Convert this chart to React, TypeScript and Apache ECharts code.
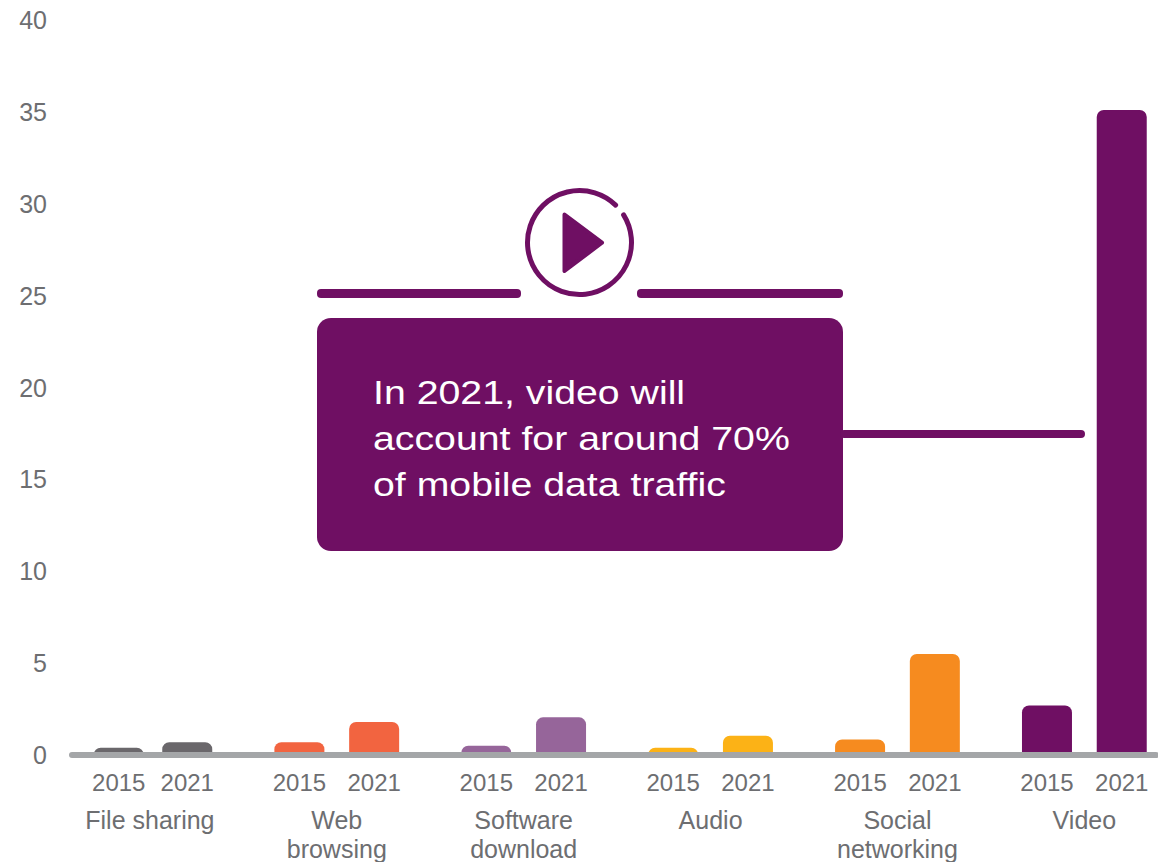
import React, { useEffect, useRef } from "react";
import * as echarts from "echarts";

const groupLabels = ["File sharing", "Web\nbrowsing", "Software\ndownload", "Audio", "Social\nnetworking", "Video"];
const yearLabels = ["2015", "2021"];
const values2015 = [0.4, 0.7, 0.5, 0.4, 0.85, 2.7];
const values2021 = [0.7, 1.8, 2.05, 1.05, 5.5, 35.1];
const groupColors = ["#6a676b", "#f26440", "#96659a", "#fcb216", "#f68b1f", "#6f0f63"];
const yTicks = [0, 5, 10, 15, 20, 25, 30, 35, 40];
const calloutText = "In 2021, video will\naccount for around 70%\nof mobile data traffic";

const PURPLE = "#6f0f63";
const FONT = "'Liberation Sans', Arial, sans-serif";
const TEXT = "#6d6e71";

// The axis is divided into fine slots so the uneven bar spacing comes from the category scale.
const SLOTS = 174;
const slot2015 = (g: number) => (g === 0 ? 7 : 6 + g * 30);
const slot2021 = (g: number) => 18 + g * 30;
const slotLabel = (g: number) => 12 + g * 30;

const yearCategories: string[] = new Array(SLOTS).fill("");
const groupCategories: string[] = new Array(SLOTS).fill("");
const barData: any[] = new Array(SLOTS).fill(null);
groupLabels.forEach((label, g) => {
  yearCategories[slot2015(g)] = yearLabels[0];
  yearCategories[slot2021(g)] = yearLabels[1];
  groupCategories[slotLabel(g)] = label;
  barData[slot2015(g)] = { value: values2015[g], itemStyle: { color: groupColors[g] } };
  barData[slot2021(g)] = { value: values2021[g], itemStyle: { color: groupColors[g] } };
});

export default function App() {
  const ref = useRef<HTMLDivElement>(null);
  useEffect(() => {
    const chart = echarts.init(ref.current!, undefined, { renderer: "svg" });
    chart.setOption({
      animation: false,
      backgroundColor: "#ffffff",
      textStyle: { fontFamily: FONT },
      grid: { left: 72, top: 20, width: 1084, height: 735, containLabel: false, outerBoundsMode: "none" },
      xAxis: [
        {
          type: "category",
          data: yearCategories,
          z: 5,
          axisLine: { show: true, lineStyle: { color: "#a4a6a8", width: 6, cap: "round" } },
          axisTick: { show: false },
          axisLabel: { interval: 0, color: TEXT, fontSize: 24, margin: 15, fontFamily: FONT, hideOverlap: false },
        },
        {
          type: "category",
          position: "bottom",
          offset: 50,
          data: groupCategories,
          axisLine: { show: false },
          axisTick: { show: false },
          axisLabel: {
            interval: 0,
            color: TEXT,
            fontSize: 25,
            lineHeight: 29,
            margin: 0,
            fontFamily: FONT,
            hideOverlap: false,
            verticalAlign: "top",
          },
        },
      ],
      yAxis: {
        type: "value",
        min: 0,
        max: yTicks[yTicks.length - 1],
        interval: yTicks[1] - yTicks[0],
        axisLine: { show: false },
        axisTick: { show: false },
        splitLine: { show: false },
        axisLabel: { color: TEXT, fontSize: 25, margin: 25, fontFamily: FONT },
      },
      series: [
        {
          type: "bar",
          data: barData,
          barWidth: 50,
          itemStyle: { borderRadius: [7, 7, 0, 0] },
        },
      ],
      graphic: [
        { type: "rect", z: 10, shape: { x: 317, y: 318, width: 526, height: 233, r: 14 }, style: { fill: PURPLE } },
        { type: "rect", z: 10, shape: { x: 317, y: 289, width: 204, height: 9, r: 4 }, style: { fill: PURPLE } },
        { type: "rect", z: 10, shape: { x: 637, y: 289, width: 206, height: 9, r: 4 }, style: { fill: PURPLE } },
        { type: "rect", z: 10, shape: { x: 840, y: 430, width: 245, height: 8, r: 4 }, style: { fill: PURPLE } },
        {
          type: "arc",
          z: 10,
          shape: {
            cx: 579.5,
            cy: 242.5,
            r: 52,
            startAngle: (-32 * Math.PI) / 180,
            endAngle: (314 * Math.PI) / 180,
            clockwise: true,
          },
          style: { stroke: PURPLE, fill: "none", lineWidth: 5, lineCap: "round" },
        },
        {
          type: "polygon",
          z: 10,
          shape: { points: [[564.5, 214.5], [602, 242.7], [564.5, 271]] },
          style: { fill: PURPLE, stroke: PURPLE, lineWidth: 4, lineJoin: "round" },
        },
        {
          type: "text",
          z: 11,
          x: 373,
          y: 369,
          scaleX: 1.155,
          style: {
            text: calloutText,
            fill: "#ffffff",
            fontSize: 34,
            lineHeight: 46,
            fontFamily: FONT,
            textAlign: "left",
            textVerticalAlign: "top",
          },
        },
      ],
    });
    return () => chart.dispose();
  }, []);
  return <div ref={ref} style={{ position: "fixed", left: 0, top: 0, width: 1158, height: 862 }} />;
}
